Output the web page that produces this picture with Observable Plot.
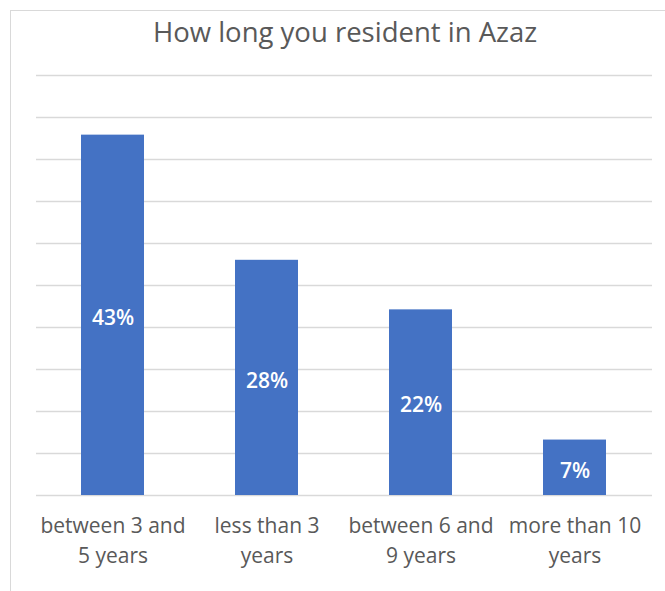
<!DOCTYPE html>
<html>
<head>
<meta charset="utf-8">
<script src="https://cdn.jsdelivr.net/npm/d3@7"></script>
<script src="https://cdn.jsdelivr.net/npm/@observablehq/plot@0.6"></script>
<style>
  html, body { margin: 0; padding: 0; background: #fff; }
  #wrap { position: relative; width: 665px; height: 591px; overflow: hidden; font-family: "Open Sans", sans-serif; }
  #frame { position: absolute; left: 10px; top: 10px; width: 700px; height: 700px; border: 1px solid #d9d9d9; box-sizing: border-box; }
  #title { position: absolute; left: 0; width: 690px; top: 12px; text-align: center; font-size: 27.5px; line-height: 40px; color: #595959; }
  #chart { position: absolute; left: 0; top: 0; }
</style>
</head>
<body>
<div id="wrap">
  <div id="frame"></div>
  <div id="chart"></div>
  <div id="title">How long you resident in Azaz</div>
</div>
<script>
const categories = ["between 3 and 5 years", "less than 3 years", "between 6 and 9 years", "more than 10 years"];
const categoryLines = [["between 3 and", "5 years"], ["less than 3", "years"], ["between 6 and", "9 years"], ["more than 10", "years"]];
const values = [42.9, 28, 22.1, 6.6];
const valueLabels = ["43%", "28%", "22%", "7%"];
const gridTicks = [0, 5, 10, 15, 20, 25, 30, 35, 40, 45, 50];

const data = categories.map((c, i) => ({cat: c, value: values[i], label: valueLabels[i], lines: categoryLines[i].join("\n")}));

const chart = Plot.plot({
  width: 665,
  height: 591,
  marginTop: 75,
  marginBottom: 96,
  marginLeft: 36,
  marginRight: 13,
  style: {background: "transparent", fontFamily: "Open Sans, sans-serif"},
  x: {domain: categories, paddingInner: 0.59, paddingOuter: 0.295, axis: null},
  y: {domain: [0, 50], axis: null},
  marks: [
    Plot.ruleY(gridTicks, {stroke: "#d9d9d9", strokeWidth: 1.5}),
    Plot.barY(data, {x: "cat", y: "value", fill: "#4472c4"}),
    Plot.text(data, {x: "cat", y: d => d.value / 2, text: "label", dy: 3, fill: "white", fontSize: 21, fontWeight: 600}),
    Plot.text(data, {x: "cat", y: 0, text: "lines", dy: 16, lineHeight: 1.43, lineAnchor: "top", fill: "#595959", fontSize: 21})
  ]
});
document.getElementById("chart").appendChild(chart);
</script>
</body>
</html>
